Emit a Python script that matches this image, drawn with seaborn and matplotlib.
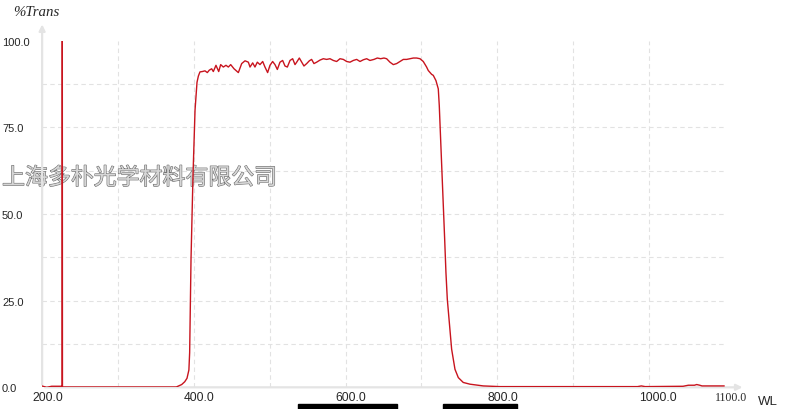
import matplotlib
matplotlib.use("Agg")
import matplotlib.pyplot as plt
import matplotlib.transforms as mtransforms
import matplotlib.patheffects as pe
from matplotlib.patches import Rectangle
import seaborn as sns

# ---------- data ----------
wavelength = [
    199.5, 206, 212.6, 226.4, 226.6, 226.8, 260, 300, 340, 377,
    384, 388, 391, 393.5, 394.5, 396.3, 398.9, 401.6, 404.2, 406, 408.1,
    411.2, 414.7, 417.8, 420.4, 423.5, 425.7, 429.2, 432.8, 435.4, 438.9,
    442.4, 445.5, 448.6, 453, 458.7, 463.1, 467.5, 471.9, 474.1, 477.6,
    480.6, 483.7, 487.2, 490.8, 493.8, 497.3, 500.4, 503.9, 507, 510.1,
    513.6, 517.1, 520.2, 523.3, 526.8, 530.3, 533.4, 535.6, 539.1, 542.2,
    545.2, 548.8, 552.3, 555.3, 558.4, 561.9, 566.3, 570.7, 575.1, 579.5,
    583.9, 588.3, 592.7, 597.1, 601.5, 605.9, 610.3, 614.7, 619.1, 623.5,
    627.9, 632.2, 637.5, 641.9, 646.3, 650.7, 654.2, 658.6, 663, 667.4,
    671.8, 676.2, 680.6, 685, 689.4, 693.8, 698.2, 702.5, 706.9, 709.1,
    713.5, 715.7, 719.2, 722.3, 723.6, 725.4, 727.2, 728.9, 730.7, 732.4,
    734.2, 736.8, 739.9, 744.3, 748.7, 755.2, 764.1, 781.6, 803.6, 850,
    900, 950, 985, 990, 995, 1045, 1052, 1060, 1063, 1067, 1070, 1099.3,
]
transmission = [
    0.4, 0.0, 0.3, 0.3, 100.0, 0.1, 0.1, 0.1, 0.1, 0.1,
    0.8, 1.6, 2.6, 5.0, 10.0, 37.0, 61.0, 80.0, 88.0, 89.8, 91.0,
    91.1, 91.3, 90.8, 91.5, 91.9, 91.1, 92.9, 91.1, 93.1, 92.4,
    92.9, 92.4, 93.1, 91.9, 90.8, 93.4, 94.2, 93.8, 92.4, 93.6,
    92.4, 93.8, 93.1, 94.0, 92.4, 90.8, 92.9, 94.0, 93.1, 91.7,
    93.8, 94.3, 92.7, 92.4, 94.3, 94.8, 93.1, 93.8, 95.0, 93.8,
    92.7, 93.4, 94.2, 94.6, 93.4, 93.8, 94.4, 94.8, 94.6, 94.8,
    94.3, 94.0, 94.8, 94.6, 94.0, 93.8, 94.3, 94.6, 94.0, 94.5,
    94.8, 94.3, 94.6, 95.0, 94.8, 95.0, 94.8, 93.8, 93.1, 93.4,
    94.0, 94.6, 94.6, 94.8, 95.0, 95.0, 94.8, 94.0, 92.4, 91.4,
    90.3, 90.0, 88.5, 86.1, 81.3, 71.7, 62.1, 52.4, 42.8, 33.1,
    25.4, 18.7, 11.0, 5.2, 2.8, 1.4, 0.9, 0.4, 0.2, 0.2,
    0.2, 0.2, 0.2, 0.4, 0.2, 0.3, 0.6, 0.6, 0.8, 0.6, 0.4, 0.4,
]

x_ticks = [200, 400, 600, 800, 1000, 1100]
x_labels = ["200.0", "400.0", "600.0", "800.0", "1000.0", "1100.0"]
y_ticks = [0, 25, 50, 75, 100]
y_labels = ["0.0", "25.0", "50.0", "75.0", "100.0"]
x_grid = [300, 400, 500, 600, 700, 800, 900, 1000]
y_grid = [12.5, 25, 37.5, 50, 62.5, 75, 87.5]

watermark = "上海多朴光学材料有限公司"

# ---------- style ----------
sns.set_style("white")
plt.rcParams["font.family"] = ["Liberation Sans", "DejaVu Sans"]

fig = plt.figure(figsize=(8.07, 4.10), dpi=100)
ax = fig.add_axes([0.0522, 0.0529, 0.8459, 0.8454])

for s in ax.spines.values():
    s.set_visible(False)

# dashed grid
for g in x_grid:
    ax.axvline(g, color="#e2e2e2", lw=0.8, ls=(0, (4, 3)), zorder=0)
for g in y_grid:
    ax.axhline(g, color="#e2e2e2", lw=0.8, ls=(0, (4, 3)), zorder=0)

# watermark behind the curve
ax.text(-0.0587, 0.604, watermark, transform=ax.transAxes,
        family=["Noto Sans CJK SC", "DejaVu Sans"], fontsize=16.5,
        fontstyle="italic", color="#d6d6d6", ha="left", va="center",
        zorder=1, path_effects=[pe.withStroke(linewidth=0.8, foreground="#6a6a6a")])

# ---------- curve ----------
sns.lineplot(x=wavelength, y=transmission, sort=False, estimator=None,
             color="#c8141e", lw=1.0, ax=ax, zorder=3)

ax.set_xlim(200, 1100)
ax.set_ylim(0, 100)

# axis lines with arrows
arrow = dict(arrowstyle="-|>", color="#e4e4e4", lw=1.6, mutation_scale=9)
ax.annotate("", xy=(1.03, 0), xytext=(0, 0), xycoords="axes fraction",
            arrowprops=arrow, annotation_clip=False, zorder=2)
ax.annotate("", xy=(0, 1.055), xytext=(0, 0), xycoords="axes fraction",
            arrowprops=arrow, annotation_clip=False, zorder=2)

# ticks
ax.set_xticks(x_ticks)
ax.set_xticklabels(x_labels, fontsize=8.7)
ax.set_yticks(y_ticks)
ax.set_yticklabels(y_labels, fontsize=8)
ax.tick_params(axis="x", length=0, pad=3)
ax.tick_params(axis="y", length=0, pad=28.9)

shift = mtransforms.ScaledTranslation(-0.10, 0, fig.dpi_scale_trans)
for lab in ax.get_xticklabels():
    lab.set_ha("left")
    lab.set_transform(lab.get_transform() + shift)
ax.get_xticklabels()[-1].set_family(["Liberation Serif"])
ax.get_xticklabels()[-1].set_fontsize(8.5)
for lab in ax.get_yticklabels():
    lab.set_ha("left")

ax.set_xlabel("")
ax.set_ylabel("")

# axis titles
fig.text(36 / 807, 1 - 13 / 410, "%Trans", family=["Liberation Serif"],
         fontstyle="italic", fontsize=10.7, ha="center", va="center")
fig.text(768 / 807, 1 - 402 / 410, "WL", fontsize=9.5, ha="center", va="center")

# black bars along the bottom edge of the screenshot
fig.patches.append(Rectangle((298 / 807, 0), 99 / 807, 5.5 / 410,
                             transform=fig.transFigure, color="black"))
fig.patches.append(Rectangle((443 / 807, 0), 74 / 807, 5.5 / 410,
                             transform=fig.transFigure, color="black"))

fig.savefig("out.png", dpi=100)
